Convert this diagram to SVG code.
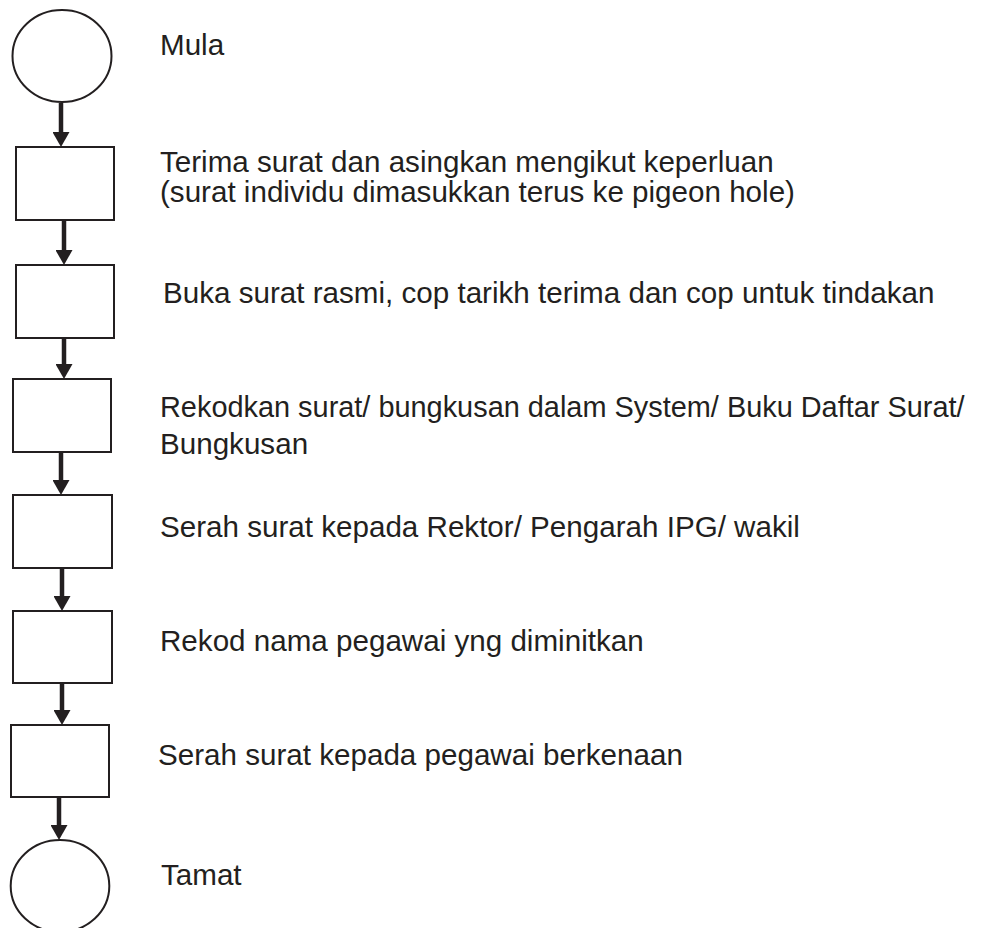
<svg xmlns="http://www.w3.org/2000/svg" width="981" height="928" viewBox="0 0 981 928">
<style>
.node{fill:#fff;stroke:#231f20;stroke-width:2}
.lbl{font-family:"Liberation Sans",Arial,sans-serif;font-size:29.6px;fill:#231f20}
.conn{stroke:#231f20;stroke-width:4.5;fill:none}
</style>
<defs>
<marker id="ah" markerUnits="userSpaceOnUse" markerWidth="17" markerHeight="17" refX="3" refY="8.5" orient="auto">
<path d="M0,0 L15,8.5 L0,17 z" fill="#231f20"/>
</marker>
</defs>
<rect width="981" height="928" fill="#fff"/>
<g id="connectors">
<line class="conn" x1="61" y1="103" x2="61" y2="135" marker-end="url(#ah)"/>
<line class="conn" x1="64" y1="220" x2="64" y2="253" marker-end="url(#ah)"/>
<line class="conn" x1="64" y1="338" x2="64" y2="367" marker-end="url(#ah)"/>
<line class="conn" x1="61" y1="452" x2="61" y2="483" marker-end="url(#ah)"/>
<line class="conn" x1="62" y1="568" x2="62" y2="599" marker-end="url(#ah)"/>
<line class="conn" x1="62" y1="683" x2="62" y2="713" marker-end="url(#ah)"/>
<line class="conn" x1="59" y1="797" x2="59" y2="828" marker-end="url(#ah)"/>
</g>
<g id="start">
<ellipse class="node" cx="62" cy="56" rx="49.5" ry="46"/>
<text class="lbl" x="160" y="55">Mula</text>
</g>
<g id="step1">
<rect class="node" x="16" y="147" width="98" height="73"/>
<text class="lbl" x="160" y="172">Terima surat dan asingkan mengikut keperluan</text>
<text class="lbl" x="160" y="202">(surat individu dimasukkan terus ke pigeon hole)</text>
</g>
<g id="step2">
<rect class="node" x="16" y="265" width="98" height="73"/>
<text class="lbl" x="163" y="303">Buka surat rasmi, cop tarikh terima dan cop untuk tindakan</text>
</g>
<g id="step3">
<rect class="node" x="13" y="379" width="98" height="73"/>
<text class="lbl" x="160" y="417" style="font-size:28.9px">Rekodkan surat/ bungkusan dalam System/ Buku Daftar Surat/</text>
<text class="lbl" x="160" y="454">Bungkusan</text>
</g>
<g id="step4">
<rect class="node" x="13" y="495" width="99" height="73"/>
<text class="lbl" x="160" y="537">Serah surat kepada Rektor/ Pengarah IPG/ wakil</text>
</g>
<g id="step5">
<rect class="node" x="13" y="611" width="99" height="72"/>
<text class="lbl" x="160" y="651">Rekod nama pegawai yng diminitkan</text>
</g>
<g id="step6">
<rect class="node" x="11" y="725" width="98" height="72"/>
<text class="lbl" x="158" y="765">Serah surat kepada pegawai berkenaan</text>
</g>
<g id="end">
<ellipse class="node" cx="60" cy="886" rx="49.3" ry="46"/>
<text class="lbl" x="161" y="885">Tamat</text>
</g>
</svg>
